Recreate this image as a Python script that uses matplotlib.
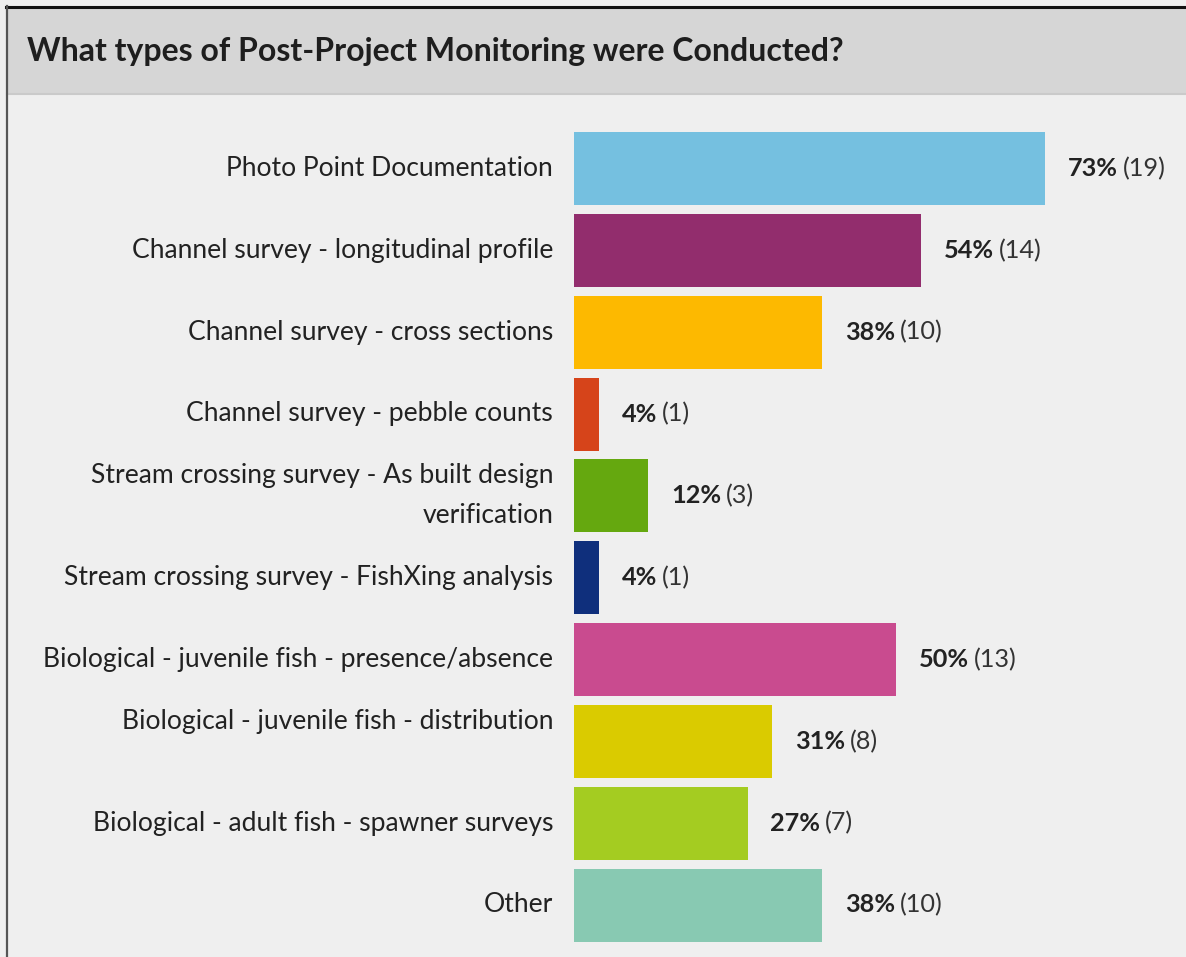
import matplotlib
matplotlib.use("Agg")
import matplotlib.pyplot as plt
from matplotlib.patches import Rectangle
from matplotlib.lines import Line2D

# ---- data ----
title = "What types of Post-Project Monitoring were Conducted?"
categories = [
    "Photo Point Documentation",
    "Channel survey - longitudinal profile",
    "Channel survey - cross sections",
    "Channel survey - pebble counts",
    "Stream crossing survey - As built design\nverification",
    "Stream crossing survey - FishXing analysis",
    "Biological - juvenile fish - presence/absence",
    "Biological - juvenile fish - distribution\n ",
    "Biological - adult fish - spawner surveys",
    "Other",
]
counts = [19, 14, 10, 1, 3, 1, 13, 8, 7, 10]
percents = ["73%", "54%", "38%", "4%", "12%", "4%", "50%", "31%", "27%", "38%"]
colors = ["#75c0e0", "#922d6d", "#fdb900", "#d6441a", "#65a80f",
          "#0f2f7c", "#c94b8f", "#dacb00", "#a4cc21", "#88c9b2"]

FONT = "Lato"
W, H = 1186, 957
fig = plt.figure(figsize=(W / 100, H / 100), dpi=100)
fig.patch.set_facecolor("#efefef")


def fx(px):
    return px / W


def fy(py):
    return 1 - py / H


# header band and borders
fig.patches.append(Rectangle((fx(7), fy(93)), 1 - fx(7), fy(8) - fy(93),
                             transform=fig.transFigure, facecolor="#d6d6d6",
                             edgecolor="none", zorder=0))
fig.add_artist(Line2D([fx(7), 1], [fy(93.5), fy(93.5)], color="#cacaca", lw=1.5))
fig.add_artist(Line2D([fx(6), 1], [fy(6.5), fy(6.5)], color="#111111", lw=2.2))
fig.add_artist(Line2D([fx(6.5), fx(6.5)], [fy(6), 0], color="#555555", lw=1.6))
fig.text(fx(27), fy(51), title, fontsize=23, fontweight="bold", family=FONT,
         color="#1e1e1e", ha="left", va="center")

# bar axes
x0_px = 574
px_per_count = (1045 - 574) / 19
first_c, last_c = 168.5, 905
pitch = (last_c - first_c) / (len(categories) - 1)
top_px = first_c - pitch / 2
bot_px = last_c + pitch / 2
ax = fig.add_axes([fx(x0_px), fy(bot_px), 1 - fx(x0_px), (bot_px - top_px) / H])
ax.set_facecolor("none")
ypos = list(range(len(categories)))
ax.barh(ypos, counts, height=73 / pitch, color=colors, edgecolor="none")
ax.set_xlim(0, (W - x0_px) / px_per_count)
ax.set_ylim(len(categories) - 0.5, -0.5)
ax.set_yticks(ypos)
ax.set_yticklabels(categories, family=FONT, fontsize=19.1, color="#222222",
                   linespacing=1.75, va="center")
ax.tick_params(axis="y", length=0, pad=15)
ax.set_xticks([])
for s in ax.spines.values():
    s.set_visible(False)

for y, c, p in zip(ypos, counts, percents):
    t = ax.annotate(p, xy=(c, y), xytext=(16.5, 0), textcoords="offset points",
                    ha="left", va="center", fontsize=18.2, fontweight="bold",
                    family=FONT, color="#222222")
    ax.annotate(f"({c})", xy=(1, 0), xycoords=t, xytext=(3.5, 0),
                textcoords="offset points", ha="left", va="bottom",
                fontsize=18.2, family=FONT, color="#333333")

fig.savefig("out.png", dpi=100, facecolor=fig.get_facecolor())
